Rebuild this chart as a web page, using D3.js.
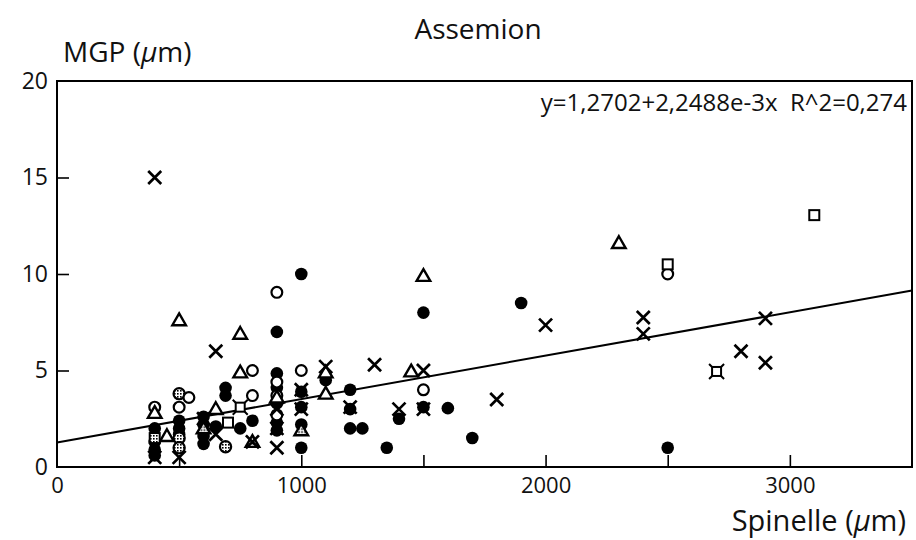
<!DOCTYPE html>
<html><head><meta charset="utf-8">
<script src="https://cdn.jsdelivr.net/npm/d3@7"></script>
<style>
body{margin:0;background:#fff}
svg{display:block}
text{font-family:"Open Sans",sans-serif;fill:#111}
</style>
</head><body>
<svg id="c" width="916" height="540"></svg>
<script>
// ---- data (Spinelle µm, MGP µm) ----
const filledCircles = [[400,2.0],[400,1.3],[400,0.9],[400,0.6],[500,2.4],[500,2.0],[500,1.7],
  [600,2.6],[600,2.2],[600,1.6],[600,1.2],[650,2.1],[690,4.1],[690,3.7],[750,2.0],[800,2.4],
  [900,7.0],[900,4.85],[900,4.1],[900,3.3],[900,2.3],[900,1.9],[1000,10.0],[1000,3.9],[1000,3.1],
  [1000,2.2],[1000,1.0],[1100,4.5],[1200,4.0],[1200,3.0],[1200,2.0],[1250,2.0],[1350,1.0],[1400,2.5],
  [1500,8.0],[1500,3.1],[1600,3.05],[1700,1.5],[1900,8.5],[2500,1.0]];
const openCircles = [[400,3.1],[500,3.1],[540,3.6],[800,5.0],[800,3.7],[900,9.05],[900,4.4],[900,3.7],
  [900,2.7],[1000,5.0],[1500,4.0],[2500,10.0]];
const crosses = [[400,15],[400,0.5],[500,0.5],[650,6.0],[600,2.5],[650,1.7],[800,1.3],[900,3.0],[900,2.0],
  [900,1.0],[1000,4.0],[1000,3.0],[1100,5.2],[1200,3.1],[1300,5.3],[1400,3.0],[1500,5.0],[1500,3.0],
  [1800,3.5],[2000,7.35],[2400,7.75],[2400,6.9],[2900,7.7],[2800,6.0],[2900,5.4]];
const openTriangles = [[400,2.8],[450,1.6],[500,7.6],[650,3.0],[750,6.9],[750,4.9],[900,3.6],[1100,3.8],
  [1100,4.9],[1450,4.95],[1500,9.9],[2300,11.6]];
const openSquares = [[700,2.3],[2500,10.5],[3100,13.05]];
const currencyMarks = [[750,3.1],[2700,4.95]];
const dottedCircles = [[500,3.8],[500,1.5],[500,1.0],[690,1.05]];
const dottedSquares = [[400,1.5]];
const dottedTriangles = [[600,2.0],[800,1.3],[1000,1.9]];

const xTickLabels = [0,1000,2000,3000];
const xTicks = [500,1000,1500,2000,2500,3000];
const yTickLabels = [0,5,10,15,20];
const yTicks = [5,10,15];
const fitA = 1.2702, fitB = 2.2488e-3;
const titleText = "Assemion";
const yTitle = "MGP (", xTitle = "Spinelle (";
const eqText = "y=1,2702+2,2488e-3x  R^2=0,274";

// ---- chart ----
const svg = d3.select("#c");
const x = d3.scaleLinear().domain([0,3500]).range([57,912]);
const y = d3.scaleLinear().domain([0,20]).range([467,81]);

const defs = svg.append("defs");
const pat = defs.append("pattern").attr("id","dots").attr("patternUnits","userSpaceOnUse")
  .attr("width",3).attr("height",3);
pat.append("rect").attr("width",3).attr("height",3).attr("fill","#fff");
pat.append("rect").attr("width",1.6).attr("height",1.6).attr("fill","#000");

// inner ticks
svg.append("g").attr("transform",`translate(0,${y(0)})`)
  .call(d3.axisBottom(x).tickValues(xTicks).tickSize(-12).tickFormat(""))
  .call(g=>{g.select(".domain").remove();g.selectAll("line").attr("stroke","#000").attr("stroke-width",1.6);});
svg.append("g").attr("transform",`translate(${x(0)},0)`)
  .call(d3.axisLeft(y).tickValues(yTicks).tickSize(-12).tickFormat(""))
  .call(g=>{g.select(".domain").remove();g.selectAll("line").attr("stroke","#000").attr("stroke-width",1.6);});

// tick labels
svg.append("g").attr("transform",`translate(0,${y(0)})`)
  .call(d3.axisBottom(x).tickValues(xTickLabels).tickSize(0).tickPadding(10).tickFormat(d3.format("d")))
  .call(g=>{g.select(".domain").remove();g.selectAll("text").attr("font-size",22).attr("font-family","Open Sans").attr("fill","#111");});
svg.append("g").attr("transform",`translate(${x(0)},0)`)
  .call(d3.axisLeft(y).tickValues(yTickLabels).tickSize(0).tickPadding(9).tickFormat(d3.format("d")))
  .call(g=>{g.select(".domain").remove();g.selectAll("text").attr("font-size",23).attr("font-family","Open Sans").attr("fill","#111");});

// frame
svg.append("rect").attr("x",x(0)).attr("y",y(20)).attr("width",x(3500)-x(0)).attr("height",y(0)-y(20))
  .attr("fill","none").attr("stroke","#000").attr("stroke-width",2);

// regression line
const xs = x.domain();
svg.append("path").datum(xs).attr("fill","none").attr("stroke","#000").attr("stroke-width",2)
  .attr("d", d3.line().x(d=>x(d)).y(d=>y(fitA+fitB*d)));

const g = svg.append("g");
g.selectAll(".fc").data(filledCircles).join("circle").attr("class","fc")
  .attr("cx",d=>x(d[0])).attr("cy",d=>y(d[1])).attr("r",6.3).attr("fill","#000");
g.selectAll(".dc").data(dottedCircles).join("circle").attr("class","dc")
  .attr("cx",d=>x(d[0])).attr("cy",d=>y(d[1])).attr("r",5.6).attr("fill","url(#dots)").attr("stroke","#000").attr("stroke-width",2.2);
g.selectAll(".oc").data(openCircles).join("circle").attr("class","oc")
  .attr("cx",d=>x(d[0])).attr("cy",d=>y(d[1])).attr("r",5.4).attr("fill","#fff").attr("stroke","#000").attr("stroke-width",2.2);
const tri = d3.symbol().type(d3.symbolTriangle).size(80);
g.selectAll(".ot").data(openTriangles).join("path").attr("class","ot")
  .attr("transform",d=>`translate(${x(d[0])},${y(d[1])+1})`).attr("d",tri)
  .attr("fill","#fff").attr("stroke","#000").attr("stroke-width",2.4);
g.selectAll(".dt").data(dottedTriangles).join("path").attr("class","dt")
  .attr("transform",d=>`translate(${x(d[0])},${y(d[1])+1})`).attr("d",tri)
  .attr("fill","url(#dots)").attr("stroke","#000").attr("stroke-width",2.4);
g.selectAll(".os").data(openSquares).join("rect").attr("class","os")
  .attr("x",d=>x(d[0])-5).attr("y",d=>y(d[1])-5).attr("width",10).attr("height",10)
  .attr("fill","#fff").attr("stroke","#000").attr("stroke-width",2);
g.selectAll(".ds").data(dottedSquares).join("rect").attr("class","ds")
  .attr("x",d=>x(d[0])-5).attr("y",d=>y(d[1])-5).attr("width",10).attr("height",10)
  .attr("fill","url(#dots)").attr("stroke","#000").attr("stroke-width",2);
const cur = g.selectAll(".cu").data(currencyMarks).join("g").attr("class","cu")
  .attr("transform",d=>`translate(${x(d[0])},${y(d[1])})`);
cur.append("rect").attr("x",-4.5).attr("y",-4.5).attr("width",9).attr("height",9)
  .attr("fill","#fff").attr("stroke","#000").attr("stroke-width",2);
cur.append("path").attr("d","M-4.5,-4.5L-7.5,-7.5M4.5,-4.5L7.5,-7.5M-4.5,4.5L-7.5,7.5M4.5,4.5L7.5,7.5")
  .attr("stroke","#000").attr("stroke-width",2);
g.selectAll(".cx").data(crosses).join("path").attr("class","cx")
  .attr("transform",d=>`translate(${x(d[0])},${y(d[1])})`)
  .attr("d","M-6.5,-6.5L6.5,6.5M-6.5,6.5L6.5,-6.5").attr("stroke","#000").attr("stroke-width",2.7).attr("fill","none");

// texts
svg.append("text").attr("x",478).attr("y",39).attr("text-anchor","middle").attr("font-size",28).text(titleText);
const yt = svg.append("text").attr("x",63).attr("y",62).attr("font-size",28);
yt.append("tspan").text(yTitle);
yt.append("tspan").attr("font-style","italic").text("\u03bc");
yt.append("tspan").text("m)");
const xt = svg.append("text").attr("x",906).attr("y",531).attr("text-anchor","end").attr("font-size",29);
xt.append("tspan").text(xTitle);
xt.append("tspan").attr("font-style","italic").text("\u03bc");
xt.append("tspan").text("m)");
svg.append("text").attr("x",907).attr("y",111).attr("text-anchor","end").attr("font-size",24).style("white-space","pre").text(eqText);
</script>
</body></html>
